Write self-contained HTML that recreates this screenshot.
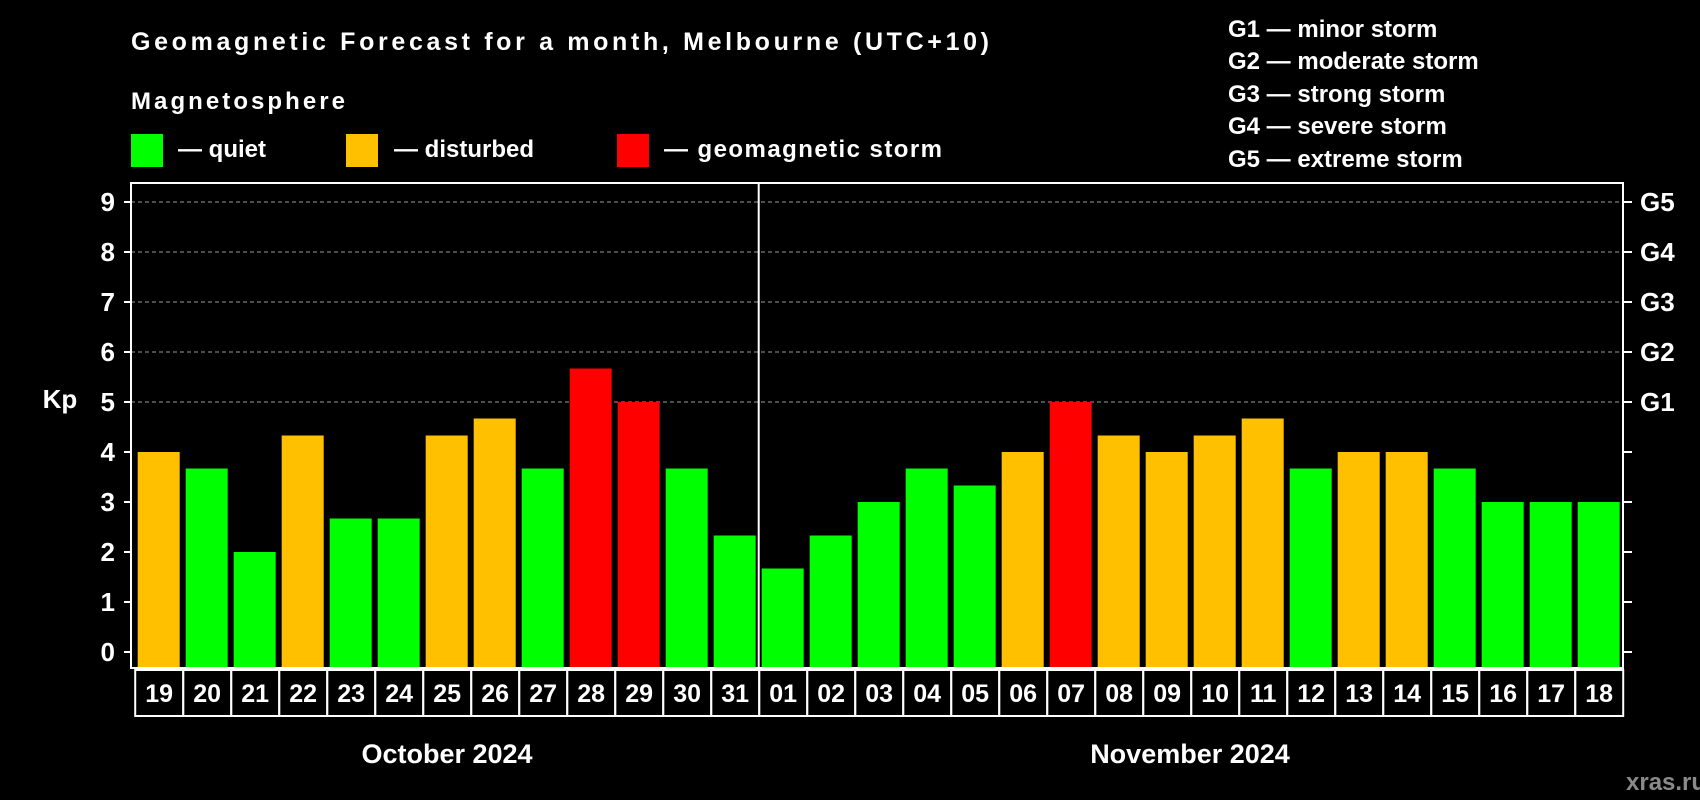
<!DOCTYPE html>
<html><head><meta charset="utf-8"><style>
html,body{margin:0;padding:0;background:#000;}
svg{display:block;font-family:"Liberation Sans",Arial,sans-serif;font-weight:bold;}
</style></head><body>
<svg id="chart" width="1700" height="800" viewBox="0 0 1700 800" xmlns="http://www.w3.org/2000/svg">
<rect width="1700" height="800" fill="#000"/>
<text x="131" y="50" fill="#fff" font-size="25" textLength="858">Geomagnetic Forecast for a month, Melbourne (UTC+10)</text>
<text x="131" y="109" fill="#fff" font-size="24" textLength="214">Magnetosphere</text>
<rect x="131" y="134" width="32" height="33" fill="#00ff00"/>
<text x="178" y="157" fill="#fff" font-size="24">— quiet</text>
<rect x="346" y="134" width="32" height="33" fill="#ffc000"/>
<text x="394" y="157" fill="#fff" font-size="24">— disturbed</text>
<rect x="617" y="134" width="32" height="33" fill="#ff0000"/>
<text x="664" y="157" fill="#fff" font-size="24" textLength="278">— geomagnetic storm</text>
<g fill="#fff" font-size="24">
<text x="1228" y="37">G1 — minor storm</text>
<text x="1228" y="69">G2 — moderate storm</text>
<text x="1228" y="102">G3 — strong storm</text>
<text x="1228" y="134">G4 — severe storm</text>
<text x="1228" y="167">G5 — extreme storm</text>
</g>
<text x="60" y="408" fill="#fff" font-size="26" text-anchor="middle">Kp</text>
<text x="1626" y="790" fill="#8a8a8a" font-size="24">xras.ru</text>
<g id="plot"></g>
</svg>
<script>
const days = ["19","20","21","22","23","24","25","26","27","28","29","30","31","01","02","03","04","05","06","07","08","09","10","11","12","13","14","15","16","17","18"];
const kpValues = [4,3.67,2,4.33,2.67,2.67,4.33,4.67,3.67,5.67,5,3.67,2.33,1.67,2.33,3,3.67,3.33,4,5,4.33,4,4.33,4.67,3.67,4,4,3.67,3,3,3];
const yTicks = [0,1,2,3,4,5,6,7,8,9];
const gLabels = ["G1","G2","G3","G4","G5"];
const gLevels = [5,6,7,8,9];
const months = ["October 2024","November 2024"];
const monthStartIdx = [0,13];

const NS="http://www.w3.org/2000/svg";
const g=document.getElementById('plot');
const L=131,R=1623,T=183,B=668,Y0=652,UNIT=50,X0=137.7,PITCH=48,BW=42;
function y(v){return Y0-v*UNIT;}
function x(i){return X0+i*PITCH;}
function mk(t,a){const e=document.createElementNS(NS,t);for(const k in a)e.setAttribute(k,a[k]);g.appendChild(e);return e;}
function color(v){return v>=5?"#ff0000":(v>=4?"#ffc000":"#00ff00");}
// grid
yTicks.forEach(t=>{
  if(t>=5){const l=mk('line',{x1:L,x2:R,y1:y(t),y2:y(t),stroke:'#9a9a9a','stroke-width':1,'stroke-dasharray':'4,3'});
  
  }
  const tk=mk('line',{x1:L-7,x2:L,y1:y(t),y2:y(t),stroke:'#fff','stroke-width':2});
  
  
  const rt=mk('line',{x1:R,x2:R+9,y1:y(t),y2:y(t),stroke:'#fff','stroke-width':2});
  
  
  const tx=mk('text',{x:115,y:y(t)+9,fill:'#fff','font-size':26,'text-anchor':'end'});
  tx.textContent=t;
  
  
});
gLabels.forEach((s,i)=>{
  const tx=mk('text',{x:1640,y:y(gLevels[i])+9,fill:'#fff','font-size':26});
  tx.textContent=s;
  
  
});
// bars
kpValues.forEach((v,i)=>{
  const r=mk('rect',{x:x(i),y:y(v),width:BW,height:B-1-y(v),fill:color(v)});
  
  
});
// plot frame
const fr=mk('rect',{x:L,y:T,width:R-L,height:B-T,fill:'none',stroke:'#fff','stroke-width':2});


// month divider
const dx=x(monthStartIdx[1])-3;
const dv=mk('line',{x1:dx,x2:dx,y1:T,y2:B,stroke:'#fff','stroke-width':2});


// day label boxes
days.forEach((d,i)=>{
  const bx=x(i)-2.5;
  const r=mk('rect',{x:bx,y:670,width:PITCH,height:46,fill:'none',stroke:'#fff','stroke-width':2});
  
  
  const t=mk('text',{x:bx+PITCH/2,y:702,fill:'#fff','font-size':25,'text-anchor':'middle'});
  t.textContent=d;
  
  
});
// month labels
const monthCenters=[447,1190];
months.forEach((m,i)=>{
  const t=mk('text',{x:monthCenters[i],y:763,fill:'#fff','font-size':27,'text-anchor':'middle'});
  t.textContent=m;
  
  
});
</script>
</body></html>
